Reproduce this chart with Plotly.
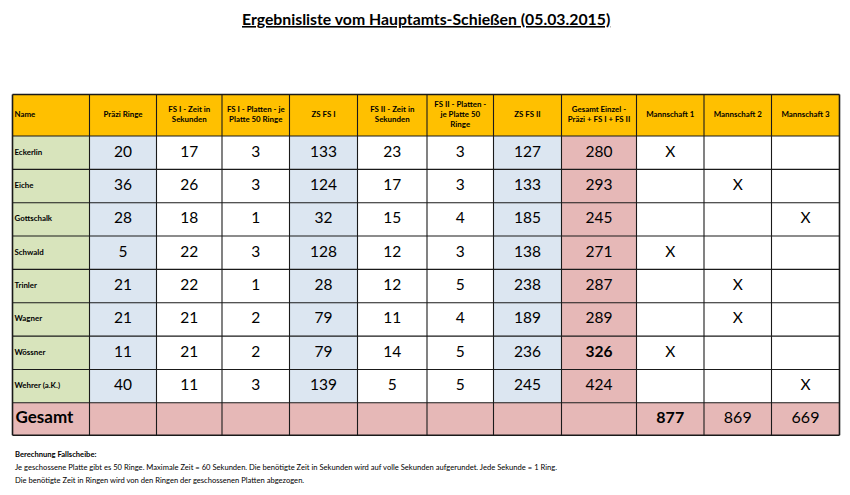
import plotly.graph_objects as go

# ---------------- data ----------------
title = "Ergebnisliste vom Hauptamts-Schießen (05.03.2015)"
headers = ["Name", "Präzi Ringe", "FS I - Zeit in<br>Sekunden", "FS I - Platten - je<br>Platte 50 Ringe",
           "ZS FS I", "FS II - Zeit in<br>Sekunden", "FS II - Platten -<br>je Platte 50<br>Ringe", "ZS FS II",
           "Gesamt Einzel -<br>Präzi + FS I + FS II", "Mannschaft 1", "Mannschaft 2", "Mannschaft 3"]
names = ["Eckerlin", "Eiche", "Gottschalk", "Schwald", "Trinler", "Wagner", "Wössner", "Wehrer (a.K.)"]
praezi_ringe = [20, 36, 28, 5, 21, 21, 11, 40]
fs1_zeit = [17, 26, 18, 22, 22, 21, 21, 11]
fs1_platten = [3, 3, 1, 3, 1, 2, 2, 3]
zs_fs1 = [133, 124, 32, 128, 28, 79, 79, 139]
fs2_zeit = [23, 17, 15, 12, 12, 11, 14, 5]
fs2_platten = [3, 3, 4, 3, 5, 4, 5, 5]
zs_fs2 = [127, 133, 185, 138, 238, 189, 236, 245]
gesamt_einzel = [280, 293, 245, 271, 287, 289, 326, 424]
mannschaft = [1, 2, 3, 1, 2, 2, 1, 3]
total_label = "Gesamt"
mannschaft_gesamt = [877, 869, 669]
note_title = "Berechnung Fallscheibe:"
note_lines = [
    "Je geschossene Platte gibt es 50 Ringe. Maximale Zeit = 60 Sekunden. Die benötigte Zeit in Sekunden wird auf volle Sekunden aufgerundet. Jede Sekunde = 1 Ring.",
    "Die benötigte Zeit in Ringen wird von den Ringen der geschossenen Platten abgezogen.",
]

# ---------------- layout / style ----------------
W, H = 850, 495
BODY = 8  # default page margin of the html body
FONT = "Lato, 'Open Sans', sans-serif"
col_edges = [12.5, 89.5, 156.5, 222, 289.5, 357.5, 427, 493.5, 561.5, 636.5, 704, 771.5, 839.5]
header_top, header_bot = 94.5, 136.0
row_h = 33.35
n_rows = len(names)
rows_bot = header_bot + n_rows * row_h
total_bot = rows_bot + 32.5

GOLD, GREEN, BLUE, PINK, WHITE = "#FFC000", "#D8E4BC", "#DCE6F1", "#E6B8B7", "#FFFFFF"
col_fill = [GREEN, BLUE, WHITE, WHITE, BLUE, WHITE, WHITE, BLUE, PINK, WHITE, WHITE, WHITE]

ncol = len(col_edges) - 1
xc = [(col_edges[i] + col_edges[i + 1]) / 2 for i in range(ncol)]
row_top = [header_bot + r * row_h for r in range(n_rows)]
yc = [t + row_h / 2 for t in row_top]
y_total = (rows_bot + total_bot) / 2
y_head = (header_top + header_bot) / 2

shapes = []
def rect(x0, y0, x1, y1, color):
    shapes.append(dict(type="rect", xref="x", yref="y", x0=x0, x1=x1, y0=y0, y1=y1,
                       fillcolor=color, line=dict(width=0), layer="below"))

# fills
rect(col_edges[0], header_top, col_edges[-1], header_bot, GOLD)
for c in range(ncol):
    rect(col_edges[c], header_bot, col_edges[c + 1], rows_bot, col_fill[c])
rect(col_edges[0], rows_bot, col_edges[-1], total_bot, PINK)

# grid lines
LC = "#1a1a1a"
hlines = [header_top, header_bot] + [header_bot + r * row_h for r in range(1, n_rows + 1)] + [total_bot]
for y in hlines:
    outer = y in (header_top, total_bot)
    shapes.append(dict(type="line", xref="x", yref="y", x0=col_edges[0], x1=col_edges[-1], y0=y, y1=y,
                       line=dict(color=LC, width=1.6 if outer else 1.1)))
for i, x in enumerate(col_edges):
    outer = i in (0, len(col_edges) - 1)
    shapes.append(dict(type="line", xref="x", yref="y", x0=x, x1=x, y0=header_top, y1=total_bot,
                       line=dict(color=LC, width=1.6 if outer else 1.1)))

fig = go.Figure()

def text_trace(xs, ys, texts, size, bold=False, pos="middle center"):
    fig.add_trace(go.Scatter(
        x=xs, y=ys, mode="text", text=[f"<b>{t}</b>" if bold else str(t) for t in texts],
        textposition=pos, textfont=dict(family=FONT, size=size, color="#000000"),
        hoverinfo="skip", showlegend=False))

# header
text_trace([col_edges[0] + 2], [y_head], [headers[0]], 7.9, bold=True, pos="middle right")
text_trace(xc[1:], [y_head] * (ncol - 1), headers[1:], 7.9, bold=True)

# names
text_trace([col_edges[0] + 2] * n_rows, yc, names, 7.9, bold=True, pos="middle right")

# numeric columns
num_cols = [praezi_ringe, fs1_zeit, fs1_platten, zs_fs1, fs2_zeit, fs2_platten, zs_fs2]
for k, col in enumerate(num_cols):
    text_trace([xc[k + 1]] * n_rows, yc, col, 15.5)

# Gesamt Einzel (best value bold, excluding a.K.)
best = max(v for v, n in zip(gesamt_einzel, names) if "a.K." not in n)
for v, y in zip(gesamt_einzel, yc):
    text_trace([xc[8]], [y], [v], 15.5, bold=(v == best))

# team marks
text_trace([xc[8 + m] for m in mannschaft], yc, ["X"] * n_rows, 15.5)

# totals row
text_trace([col_edges[0] + 3], [y_total], [total_label], 17, bold=True, pos="middle right")
best_team = max(mannschaft_gesamt)
for i, v in enumerate(mannschaft_gesamt):
    text_trace([xc[9 + i]], [y_total], [v], 16, bold=(v == best_team))

annotations = [
    dict(text=f"<b><u>{title}</u></b>", x=426, y=18, xref="x", yref="y", showarrow=False,
         font=dict(family=FONT, size=15.8, color="#000"), xanchor="center", yanchor="middle"),
    dict(text=f"<b>{note_title}</b>", x=13, y=454, xref="x", yref="y", showarrow=False,
         font=dict(family=FONT, size=7.6, color="#000"), xanchor="left", yanchor="middle"),
]
for i, line in enumerate(note_lines):
    annotations.append(dict(text=line, x=13, y=467 + 12.5 * i, xref="x", yref="y", showarrow=False,
                            font=dict(family=FONT, size=7.6, color="#000"), xanchor="left", yanchor="middle"))

fig.update_layout(
    width=W - BODY, height=H - BODY, margin=dict(l=0, r=0, t=0, b=0),
    paper_bgcolor="white", plot_bgcolor="white",
    xaxis=dict(range=[BODY, W], visible=False, fixedrange=True),
    yaxis=dict(range=[H, BODY], visible=False, fixedrange=True),
    shapes=shapes, annotations=annotations,
)
fig.write_html("out.html")
